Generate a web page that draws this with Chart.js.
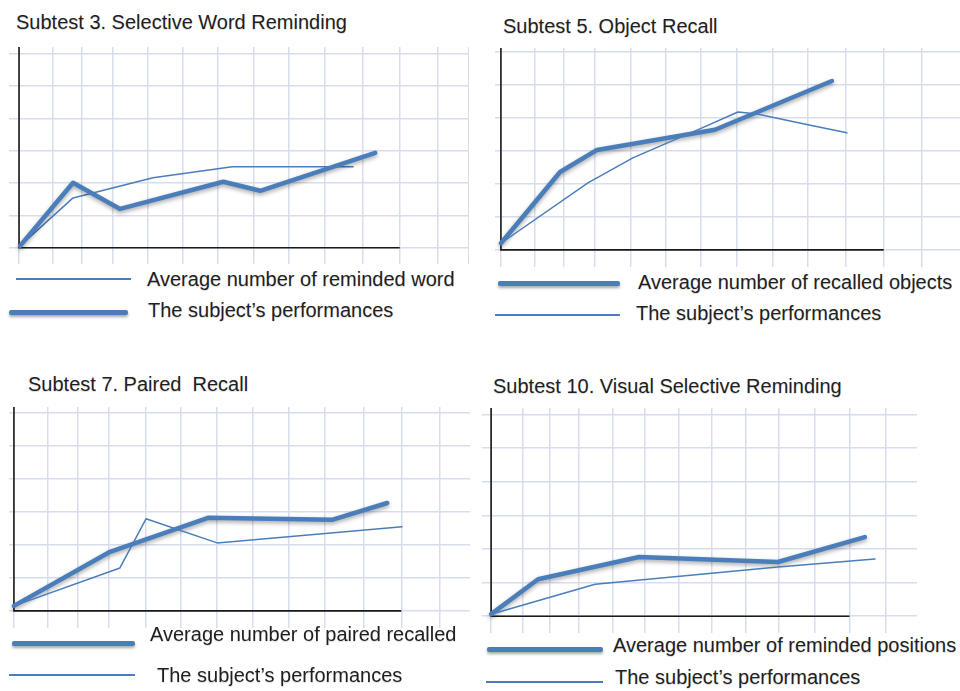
<!DOCTYPE html>
<html>
<head>
<meta charset="utf-8">
<script src="https://cdn.jsdelivr.net/npm/chart.js@4"></script>
<style>
  html, body { margin: 0; padding: 0; background: #fff; }
  #page { position: relative; width: 960px; height: 691px; overflow: hidden; background: #fff; }
  canvas { position: absolute; }
  .txt { position: absolute; font: 20px "Liberation Sans", Arial, sans-serif; line-height: 20px;
         color: #1f1f1f; white-space: pre; text-shadow: 0 1px 1px rgba(0,0,0,0.15); }
  .sample { position: absolute; background: #4a7ebb; }
</style>
</head>
<body>
<div id="page"></div>
<script>
// chart texts
const titles = [
  "Subtest 3. Selective Word Reminding",
  "Subtest 5. Object Recall",
  "Subtest 7. Paired  Recall",
  "Subtest 10. Visual Selective Reminding"
];
const avgLabels = [
  "Average number of reminded word",
  "Average number of recalled objects",
  "Average number of paired recalled",
  "Average number of reminded positions"
];
const subjectLabel = "The subject\u2019s performances";

// Subtest 3
const wordAvgX = [0.03, 1.56, 3.87, 6.16, 9.65];
const wordAvgY = [0.06, 1.54, 2.16, 2.5, 2.5];
const wordSubX = [0.03, 1.56, 2.92, 5.9, 6.97, 10.29];
const wordSubY = [0.06, 2.01, 1.2, 2.04, 1.76, 2.93];

// Subtest 5
const objAvgX = [0, 1.7, 2.76, 6.15, 9.51];
const objAvgY = [0.2, 2.36, 3.03, 3.64, 5.12];
const objSubX = [0, 2.5, 3.79, 5.78, 6.81, 7.36, 8.82, 9.94];
const objSubY = [0.2, 2.03, 2.79, 3.7, 4.18, 4.12, 3.79, 3.55];

// Subtest 7
const pairAvgX = [0, 2.73, 5.51, 9.03, 10.6];
const pairAvgY = [0.15, 1.79, 2.82, 2.76, 3.27];
const pairSubX = [0, 3.01, 3.75, 5.77, 11.02];
const pairSubY = [0.15, 1.3, 2.79, 2.06, 2.55];

// Subtest 10
const visAvgX = [0, 1.44, 4.54, 8.8, 11.47];
const visAvgY = [0.06, 1.1, 1.76, 1.61, 2.35];
const visSubX = [0, 3.19, 8.8, 11.78];
const visSubY = [0.06, 0.95, 1.46, 1.7];

// grid positions (the paper grid is a bit uneven)
const gridCols = [0, 0.97, 1.8, 2.7, 3.73, 4.73, 5.75, 6.77, 7.8, 8.82, 9.92, 11, 12.1, 13];
const gridRows = [0, 1, 2, 3, 4, 5, 6];

const blue = "#4a7ebb";

const zip = (xs, ys) => xs.map((x, i) => ({ x: x, y: ys[i] }));

const panels = [
  { title: 0, titleAt: [16, 29], thick: "sub",
    avg: zip(wordAvgX, wordAvgY), sub: zip(wordSubX, wordSubY),
    box: [9, 47, 460, 217], xr: [-0.29, 13], yr: [-0.5, 6.2], cols: 14,
    legend: [
      { key: "avg", line: [16, 131, 279], text: [147, 286] },
      { key: "sub", line: [9, 128, 312], text: [148, 317] }
    ] },
  { title: 1, titleAt: [503, 33], thick: "avg",
    avg: zip(objAvgX, objAvgY), sub: zip(objSubX, objSubY),
    box: [495, 48, 465, 219], xr: [-0.17, 13.19], yr: [-0.52, 6.12], cols: 13,
    legend: [
      { key: "avg", line: [498, 620, 283], text: [638, 289] },
      { key: "sub", line: [495, 620, 315], text: [636, 320] }
    ] },
  { title: 2, titleAt: [28, 391], thick: "avg",
    avg: zip(pairAvgX, pairAvgY), sub: zip(pairSubX, pairSubY),
    box: [9, 407, 461, 221], xr: [-0.14, 12.95], yr: [-0.52, 6.18], cols: 13,
    legend: [
      { key: "avg", line: [12, 135, 643], text: [150, 641] },
      { key: "sub", line: [9, 135, 675], text: [157, 682] }
    ] },
  { title: 3, titleAt: [493, 393], thick: "avg",
    avg: zip(visAvgX, visAvgY), sub: zip(visSubX, visSubY),
    box: [482, 408, 435, 225], xr: [-0.28, 13.07], yr: [-0.5, 6.19], cols: 13,
    legend: [
      { key: "avg", line: [487, 603, 649], text: [613, 652] },
      { key: "sub", line: [486, 603, 682], text: [615, 684] }
    ] }
];

// black axes from the origin
const axisLines = {
  id: "axisLines",
  beforeDatasetsDraw(chart, args, opts) {
    const { ctx, scales: { x, y } } = chart;
    const x0 = x.getPixelForValue(0), y0 = y.getPixelForValue(0);
    ctx.save();
    ctx.strokeStyle = "#1a1a1a";
    ctx.lineWidth = 1.6;
    ctx.beginPath();
    ctx.moveTo(x0, y.getPixelForValue(y.max));
    ctx.lineTo(x0, y0);
    ctx.lineTo(x.getPixelForValue(opts.xEnd), y0);
    ctx.stroke();
    ctx.restore();
  }
};

// soft shadow under the thick line
const lineShadow = {
  id: "lineShadow",
  beforeDatasetDraw(chart, args) {
    const ctx = chart.ctx;
    ctx.save();
    if (chart.data.datasets[args.index].borderWidth > 2) {
      ctx.shadowColor = "rgba(0,0,0,0.35)";
      ctx.shadowBlur = 4;
      ctx.shadowOffsetY = 2;
    }
  },
  afterDatasetDraw(chart) {
    chart.ctx.restore();
  }
};

const page = document.getElementById("page");

function addText(str, x, base) {
  const d = document.createElement("div");
  d.className = "txt";
  d.textContent = str;
  d.style.left = x + "px";
  d.style.top = (base - 17) + "px";
  page.appendChild(d);
}

function addSample(thick, x1, x2, y) {
  const d = document.createElement("div");
  const h = thick ? 5 : 1.5;
  d.className = "sample";
  d.style.left = x1 + "px";
  d.style.width = (x2 - x1) + "px";
  d.style.top = (y - h / 2) + "px";
  d.style.height = h + "px";
  if (thick) {
    d.style.borderRadius = "2px";
    d.style.boxShadow = "0 2px 3px rgba(0,0,0,0.35)";
  }
  page.appendChild(d);
}

panels.forEach(function (p) {
  const cv = document.createElement("canvas");
  cv.width = p.box[2];
  cv.height = p.box[3];
  cv.style.left = p.box[0] + "px";
  cv.style.top = p.box[1] + "px";
  page.appendChild(cv);

  const wide = (key) => p.thick === key ? 4.5 : 1.5;

  new Chart(cv.getContext("2d"), {
    type: "line",
    data: {
      datasets: [
        { label: subjectLabel, data: p.sub, borderColor: blue, borderWidth: wide("sub"),
          pointRadius: 0, tension: 0, borderJoinStyle: "round", borderCapStyle: "round" },
        { label: avgLabels[p.title], data: p.avg, borderColor: blue, borderWidth: wide("avg"),
          pointRadius: 0, tension: 0, borderJoinStyle: "round", borderCapStyle: "round" }
      ]
    },
    options: {
      responsive: false,
      animation: false,
      events: [],
      layout: { padding: 0 },
      scales: {
        x: {
          type: "linear", min: p.xr[0], max: p.xr[1],
          afterBuildTicks: (s) => { s.ticks = gridCols.slice(0, p.cols).map(v => ({ value: v })); },
          ticks: { display: false },
          border: { display: false },
          grid: { color: "#d8ddee", lineWidth: 1.5, drawTicks: false }
        },
        y: {
          type: "linear", min: p.yr[0], max: p.yr[1],
          afterBuildTicks: (s) => { s.ticks = gridRows.map(v => ({ value: v })); },
          ticks: { display: false },
          border: { display: false },
          grid: { color: "#d8ddee", lineWidth: 1.5, drawTicks: false }
        }
      },
      plugins: {
        legend: { display: false },
        tooltip: { enabled: false },
        axisLines: { xEnd: 11 }
      }
    },
    plugins: [axisLines, lineShadow]
  });

  addText(titles[p.title], p.titleAt[0], p.titleAt[1]);
  p.legend.forEach(function (row) {
    addSample(p.thick === row.key, row.line[0], row.line[1], row.line[2]);
    addText(row.key === "avg" ? avgLabels[p.title] : subjectLabel, row.text[0], row.text[1]);
  });
});
</script>
</body>
</html>
